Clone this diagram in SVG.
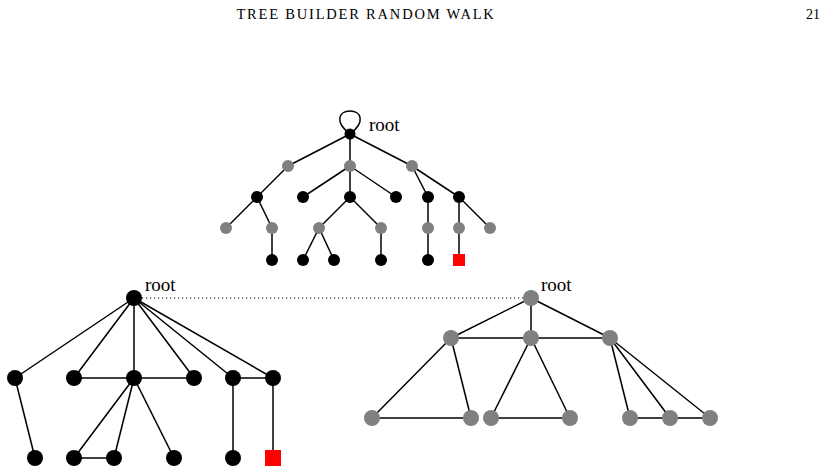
<svg xmlns="http://www.w3.org/2000/svg" width="831" height="473" viewBox="0 0 831 473">
<style>
.e line,.e path{stroke:#000;stroke-width:1.5;fill:none}
.k{fill:#000}.g{fill:#808080}.r{fill:#ff0000}
text{font-family:"Liberation Serif",serif;fill:#000}
</style>
<rect width="831" height="473" fill="#fff"/>
<text x="366" y="19" font-size="14.5" letter-spacing="1.8" text-anchor="middle">TREE BUILDER RANDOM WALK</text>
<text x="820" y="19" font-size="14" text-anchor="end">21</text>
<g class="e" id="connectors">
<path d="M350,134 C334,122 339,111 350,111 C361,111 366,122 350,134"/>
<line x1="350" y1="134" x2="288" y2="166"/><line x1="350" y1="134" x2="350" y2="166"/><line x1="350" y1="134" x2="412" y2="166"/>
<line x1="288" y1="166" x2="257" y2="197"/>
<line x1="350" y1="166" x2="303" y2="197"/><line x1="350" y1="166" x2="350" y2="197"/><line x1="350" y1="166" x2="396" y2="197"/>
<line x1="412" y1="166" x2="428" y2="197"/><line x1="412" y1="166" x2="459" y2="197"/>
<line x1="257" y1="197" x2="226" y2="228"/><line x1="257" y1="197" x2="272" y2="228"/>
<line x1="350" y1="197" x2="319" y2="228"/><line x1="350" y1="197" x2="381" y2="228"/>
<line x1="428" y1="197" x2="428" y2="228"/><line x1="459" y1="197" x2="459" y2="228"/><line x1="459" y1="197" x2="490" y2="228"/>
<line x1="272" y1="228" x2="272" y2="260"/><line x1="319" y1="228" x2="303" y2="260"/><line x1="319" y1="228" x2="334" y2="260"/>
<line x1="381" y1="228" x2="381" y2="260"/><line x1="428" y1="228" x2="428" y2="260"/><line x1="459" y1="228" x2="459" y2="260"/>
<line x1="134" y1="298" x2="15" y2="378"/><line x1="134" y1="298" x2="74" y2="378"/><line x1="134" y1="298" x2="134" y2="378"/>
<line x1="134" y1="298" x2="194" y2="378"/><line x1="134" y1="298" x2="233" y2="378"/><line x1="134" y1="298" x2="273" y2="378"/>
<line x1="74" y1="378" x2="194" y2="378"/><line x1="233" y1="378" x2="273" y2="378"/>
<line x1="15" y1="378" x2="35" y2="458"/><line x1="134" y1="378" x2="74" y2="458"/><line x1="134" y1="378" x2="114" y2="458"/><line x1="134" y1="378" x2="174" y2="458"/>
<line x1="74" y1="458" x2="114" y2="458"/><line x1="233" y1="378" x2="233" y2="458"/><line x1="273" y1="378" x2="273" y2="458"/>
<line x1="134" y1="298" x2="531" y2="298" style="stroke-dasharray:1.2 2.8;stroke-width:1.2"/>
<line x1="531" y1="298" x2="451" y2="338"/><line x1="531" y1="298" x2="531" y2="338"/><line x1="531" y1="298" x2="610" y2="338"/>
<line x1="451" y1="338" x2="610" y2="338"/>
<line x1="451" y1="338" x2="372" y2="418"/><line x1="451" y1="338" x2="471" y2="418"/><line x1="372" y1="418" x2="471" y2="418"/>
<line x1="531" y1="338" x2="491" y2="418"/><line x1="531" y1="338" x2="570" y2="418"/><line x1="491" y1="418" x2="570" y2="418"/>
<line x1="610" y1="338" x2="630" y2="418"/><line x1="610" y1="338" x2="670" y2="418"/><line x1="610" y1="338" x2="710" y2="418"/><line x1="630" y1="418" x2="710" y2="418"/>
</g>
<g id="top-tree">
<circle id="t-root" class="k" cx="350" cy="134" r="5.5"/>
<circle class="g" cx="288" cy="166" r="6"/><circle class="g" cx="350" cy="166" r="6"/><circle class="g" cx="412" cy="166" r="6"/>
<circle class="k" cx="257" cy="197" r="6"/><circle class="k" cx="303" cy="197" r="6"/><circle class="k" cx="350" cy="197" r="6"/><circle class="k" cx="396" cy="197" r="6"/><circle class="k" cx="428" cy="197" r="6"/><circle class="k" cx="459" cy="197" r="6"/>
<circle class="g" cx="226" cy="228" r="6"/><circle class="g" cx="272" cy="228" r="6"/><circle class="g" cx="319" cy="228" r="6"/><circle class="g" cx="381" cy="228" r="6"/><circle class="g" cx="428" cy="228" r="6"/><circle class="g" cx="459" cy="228" r="6"/><circle class="g" cx="490" cy="228" r="6"/>
<circle class="k" cx="272" cy="260" r="6"/><circle class="k" cx="303" cy="260" r="6"/><circle class="k" cx="334" cy="260" r="6"/><circle class="k" cx="381" cy="260" r="6"/><circle class="k" cx="428" cy="260" r="6"/>
<rect class="r" x="453" y="254" width="12" height="12"/>
<text x="369" y="131" font-size="19">root</text>
</g>
<g id="left-tree">
<circle class="k" cx="134" cy="298" r="8"/>
<circle class="k" cx="15" cy="378" r="8"/><circle class="k" cx="74" cy="378" r="8"/><circle class="k" cx="134" cy="378" r="8"/><circle class="k" cx="194" cy="378" r="8"/><circle class="k" cx="233" cy="378" r="8"/><circle class="k" cx="273" cy="378" r="8"/>
<circle class="k" cx="35" cy="458" r="8"/><circle class="k" cx="74" cy="458" r="8"/><circle class="k" cx="114" cy="458" r="8"/><circle class="k" cx="174" cy="458" r="8"/><circle class="k" cx="233" cy="458" r="8"/>
<rect class="r" x="265" y="450" width="16" height="16"/>
<text x="145" y="291" font-size="19">root</text>
</g>
<g id="right-tree">
<circle class="g" cx="531" cy="298" r="8"/>
<circle class="g" cx="451" cy="338" r="8"/><circle class="g" cx="531" cy="338" r="8"/><circle class="g" cx="610" cy="338" r="8"/>
<circle class="g" cx="372" cy="418" r="8"/><circle class="g" cx="471" cy="418" r="8"/><circle class="g" cx="491" cy="418" r="8"/><circle class="g" cx="570" cy="418" r="8"/><circle class="g" cx="630" cy="418" r="8"/><circle class="g" cx="670" cy="418" r="8"/><circle class="g" cx="710" cy="418" r="8"/>
<text x="541" y="291" font-size="19">root</text>
</g>
</svg>
